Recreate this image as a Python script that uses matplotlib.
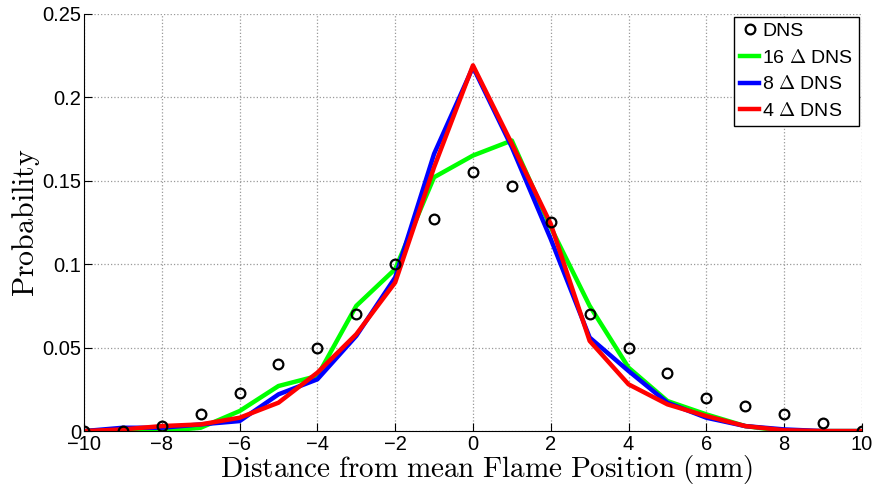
import numpy as np
from matplotlib import pyplot as plt

plt.rcParams['mathtext.fontset'] = 'cm'

# distance from mean flame position (mm)
x = np.arange(-10, 11)

dns = [0.0, 0.0, 0.003, 0.010, 0.023, 0.040, 0.050, 0.070, 0.100, 0.127, 0.155,
       0.147, 0.125, 0.070, 0.050, 0.035, 0.020, 0.015, 0.010, 0.005, 0.0]
dns16 = [0.0, 0.001, 0.0, 0.002, 0.012, 0.027, 0.033, 0.075, 0.097, 0.152, 0.165,
         0.174, 0.122, 0.075, 0.038, 0.018, 0.010, 0.003, 0.0, 0.0, 0.0]
dns8 = [0.0, 0.002, 0.002, 0.004, 0.006, 0.022, 0.031, 0.057, 0.092, 0.166, 0.218,
        0.170, 0.115, 0.056, 0.036, 0.017, 0.008, 0.003, 0.001, 0.0, 0.0]
dns4 = [0.0, 0.001, 0.003, 0.004, 0.008, 0.017, 0.035, 0.058, 0.089, 0.158, 0.219,
        0.172, 0.124, 0.054, 0.028, 0.016, 0.009, 0.003, 0.0005, 0.0, 0.0]

fig = plt.figure(figsize=(8.77, 4.86), dpi=100)
ax = fig.add_axes([0.0958, 0.113, 0.887, 0.859])

ax.plot(x, dns, 'o', color='black', mfc='none', ms=7, mew=1.6, label='DNS', zorder=4)
ax.plot(x, dns16, color='#00ff00', lw=3.2, label=r'16 $\Delta$ DNS')
ax.plot(x, dns8, color='#0000ff', lw=3.2, label=r'8 $\Delta$ DNS')
ax.plot(x, dns4, color='#ff0000', lw=3.2, label=r'4 $\Delta$ DNS')

ax.set_xlim(-10, 10)
ax.set_ylim(0, 0.25)
ax.set_xticks(np.arange(-10, 11, 2))
ax.set_yticks([0, 0.05, 0.1, 0.15, 0.2, 0.25])
ax.set_yticklabels(['0', '0.05', '0.1', '0.15', '0.2', '0.25'])
ax.tick_params(direction='in', length=6, labelsize=14.5, width=0.8)
ax.tick_params(axis='y', pad=2)
ax.tick_params(axis='x', pad=3)
for lbl in ax.get_xticklabels() + ax.get_yticklabels():
    lbl.set_family('Liberation Sans')

ax.spines['top'].set_visible(False)
ax.spines['right'].set_visible(False)
ax.grid(True, linestyle=':', color='#999999', lw=0.9)

ax.set_xlabel(r'$\mathrm{Distance\ from\ mean\ Flame\ Position\ (mm)}$', fontsize=21, labelpad=-1)
ax.xaxis.label.set_x(0.517)
ax.set_ylabel(r'$\mathrm{Probability}$', fontsize=21.5, labelpad=0)

leg = ax.legend(loc='upper right', prop={'family': 'Liberation Sans', 'size': 14},
                fancybox=False, edgecolor='black', framealpha=1,
                handlelength=1.0, handletextpad=0.15, borderpad=0.3,
                labelspacing=0.45, borderaxespad=0.15)
leg.get_frame().set_linewidth(1.0)

fig.savefig('out.png', dpi=100)
